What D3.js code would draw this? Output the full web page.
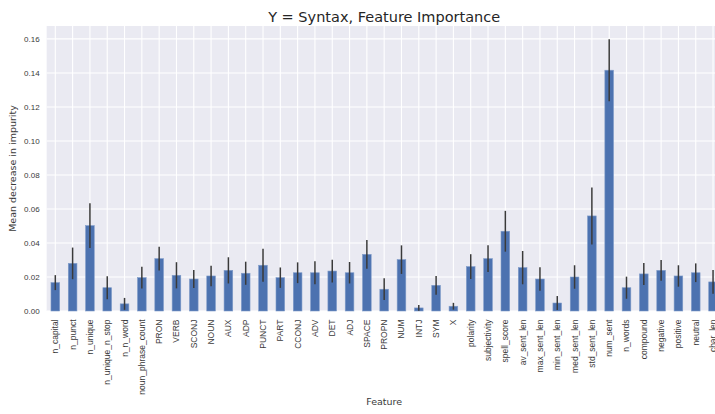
<!DOCTYPE html>
<html>
<head>
<meta charset="utf-8">
<script src="https://cdn.jsdelivr.net/npm/d3@7"></script>
<style>
  html, body { margin: 0; padding: 0; background: #ffffff; overflow: hidden; }
  svg { display: block; font-family: "DejaVu Sans", sans-serif; }
</style>
</head>
<body>
<svg id="chart" width="715" height="414"></svg>
<script>
// Feature names, in plotting order
const features = [
  "n_capital", "n_punct", "n_unique", "n_unique_n_stop", "n_n_word",
  "noun_phrase_count", "PRON", "VERB", "SCONJ", "NOUN", "AUX", "ADP",
  "PUNCT", "PART", "CCONJ", "ADV", "DET", "ADJ", "SPACE", "PROPN", "NUM",
  "INTJ", "SYM", "X", "polarity", "subjectivity", "spell_score",
  "av_sent_len", "max_sent_len", "min_sent_len", "med_sent_len",
  "std_sent_len", "num_sent", "n_words", "compound", "negative",
  "positive", "neutral", "char_len"
];

// Mean decrease in impurity per feature
const importance = [
  0.0167, 0.0280, 0.0502, 0.0137, 0.0042,
  0.0196, 0.0308, 0.0210, 0.0188, 0.0206, 0.0239, 0.0222,
  0.0269, 0.0196, 0.0225, 0.0225, 0.0235, 0.0225, 0.0333, 0.0128, 0.0302,
  0.0018, 0.0151, 0.0028, 0.0261, 0.0308, 0.0469,
  0.0255, 0.0188, 0.0047, 0.0200,
  0.0559, 0.1416, 0.0137, 0.0218, 0.0239,
  0.0206, 0.0225, 0.0171
];

// Standard deviation across trees (error bar half-length)
const stdDev = [
  0.0044, 0.0093, 0.0131, 0.0068, 0.0035,
  0.0064, 0.0070, 0.0077, 0.0053, 0.0060, 0.0077, 0.0068,
  0.0097, 0.0060, 0.0061, 0.0067, 0.0067, 0.0063, 0.0085, 0.0064, 0.0084,
  0.0017, 0.0055, 0.0020, 0.0073, 0.0078, 0.0120,
  0.0098, 0.0069, 0.0041, 0.0069,
  0.0168, 0.0182, 0.0065, 0.0065, 0.0061,
  0.0063, 0.0055, 0.0070
];

const yTicks = [0.00, 0.02, 0.04, 0.06, 0.08, 0.10, 0.12, 0.14, 0.16];

const titleText = "Y = Syntax, Feature Importance";
const xLabel = "Feature";
const yLabel = "Mean decrease in impurity";

const rows = features.map((f, i) => ({ name: f, value: importance[i], err: stdDev[i] }));

// Plot frame (axes extends slightly past the right edge of the canvas)
const plot = { left: 46.65, right: 721.7, top: 26, bottom: 311 };

const svg = d3.select("#chart");

const x = d3.scaleBand()
  .domain(features)
  .range([plot.left, plot.right])
  .paddingInner(0.5)
  .paddingOuter(0.25);

const y = d3.scaleLinear()
  .domain([0, 0.1676])
  .range([plot.bottom, plot.top]);

// Axes background
svg.append("rect")
  .attr("x", plot.left)
  .attr("y", plot.top)
  .attr("width", plot.right - plot.left)
  .attr("height", plot.bottom - plot.top)
  .attr("fill", "#EAEAF2");

// Grid lines
const grid = svg.append("g").attr("stroke", "#ffffff").attr("stroke-width", 1.1);
grid.selectAll("line.h")
  .data(yTicks)
  .join("line")
  .attr("class", "h")
  .attr("x1", plot.left).attr("x2", plot.right)
  .attr("y1", d => y(d)).attr("y2", d => y(d));
grid.selectAll("line.v")
  .data(features)
  .join("line")
  .attr("class", "v")
  .attr("x1", d => x(d) + x.bandwidth() / 2)
  .attr("x2", d => x(d) + x.bandwidth() / 2)
  .attr("y1", plot.top).attr("y2", plot.bottom);

// Bars
svg.append("g")
  .selectAll("rect")
  .data(rows)
  .join("rect")
  .attr("x", d => x(d.name))
  .attr("width", x.bandwidth())
  .attr("y", d => y(d.value))
  .attr("height", d => y(0) - y(d.value))
  .attr("fill", "#4C72B0")
  .attr("stroke", "#7f9bc8")
  .attr("stroke-width", 0.6);

// Error bars
svg.append("g")
  .selectAll("line")
  .data(rows)
  .join("line")
  .attr("x1", d => x(d.name) + x.bandwidth() / 2)
  .attr("x2", d => x(d.name) + x.bandwidth() / 2)
  .attr("y1", d => y(Math.max(0, d.value - d.err)))
  .attr("y2", d => y(d.value + d.err))
  .attr("stroke", "#3a3a3a")
  .attr("stroke-width", 1.5);

// Y axis
const yAxis = svg.append("g")
  .attr("transform", `translate(${plot.left},0)`)
  .call(d3.axisLeft(y).tickValues(yTicks).tickFormat(d3.format(".2f")).tickSize(0).tickPadding(7));
yAxis.select(".domain").remove();
yAxis.selectAll("text")
  .attr("fill", "#3a3a3a")
  .style("font-size", "8px");

// X axis
const xAxis = svg.append("g")
  .attr("transform", `translate(0,${plot.bottom})`)
  .call(d3.axisBottom(x).tickSize(0).tickPadding(0));
xAxis.select(".domain").remove();
xAxis.selectAll("text")
  .attr("fill", "#3a3a3a")
  .style("font-size", "8.5px")
  .attr("text-anchor", "end")
  .attr("dy", "0.35em")
  .attr("transform", "translate(0,8.5) rotate(-90)")
  .attr("x", 0)
  .attr("y", 0);

// Title
svg.append("text")
  .attr("x", (plot.left + plot.right) / 2)
  .attr("y", 22)
  .attr("text-anchor", "middle")
  .attr("fill", "#262626")
  .style("font-size", "14.5px")
  .text(titleText);

// Axis labels
svg.append("text")
  .attr("x", (plot.left + plot.right) / 2)
  .attr("y", 405)
  .attr("text-anchor", "middle")
  .attr("fill", "#3a3a3a")
  .style("font-size", "9.5px")
  .text(xLabel);

svg.append("text")
  .attr("transform", `translate(16,${(plot.top + plot.bottom) / 2}) rotate(-90)`)
  .attr("text-anchor", "middle")
  .attr("fill", "#3a3a3a")
  .style("font-size", "9.5px")
  .text(yLabel);
</script>
</body>
</html>
